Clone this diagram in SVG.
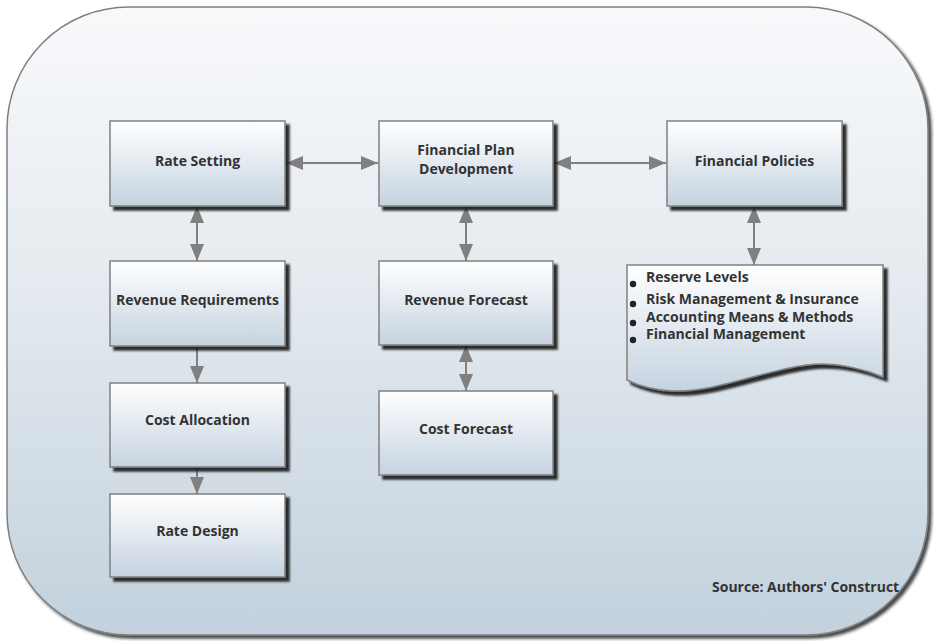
<svg xmlns="http://www.w3.org/2000/svg" width="934" height="641" viewBox="0 0 934 641">
<style>
.box{fill:url(#boxg);stroke:#808080;stroke-width:1.5;filter:url(#sh)}
.lbl{font-family:"Open Sans","Noto Sans","Liberation Sans",sans-serif;font-weight:bold;font-size:14px;fill:#333;text-anchor:middle}
.bl{font-family:"Open Sans","Noto Sans","Liberation Sans",sans-serif;font-weight:bold;font-size:14px;fill:#333}
.con{stroke:#808080;stroke-width:2;fill:none}
</style>
<defs>
<linearGradient id="bg" x1="0" y1="0" x2="0" y2="1">
<stop offset="0" stop-color="#f8f9fb"/>
<stop offset="0.45" stop-color="#e4eaef"/>
<stop offset="1" stop-color="#c2d1dd"/>
</linearGradient>
<linearGradient id="boxg" x1="0" y1="0" x2="0" y2="1">
<stop offset="0" stop-color="#ffffff"/>
<stop offset="1" stop-color="#c5d3e0"/>
</linearGradient>
<filter id="sh" x="-10%" y="-10%" width="130%" height="130%">
<feDropShadow dx="4" dy="4" stdDeviation="1" flood-color="#151515" flood-opacity="0.9"/>
</filter>
<filter id="sh2" x="-5%" y="-5%" width="110%" height="110%">
<feDropShadow dx="3" dy="3" stdDeviation="1.5" flood-color="#1a1a1a" flood-opacity="0.8"/>
</filter>
<marker id="ah" markerUnits="userSpaceOnUse" markerWidth="17" markerHeight="14" refX="17" refY="7" orient="auto-start-reverse">
<path d="M0,0 L17,7 L0,14 Z" fill="#808080"/>
</marker>
</defs>
<g id="background">
<rect x="7" y="7" width="921" height="628" rx="122" ry="122" fill="url(#bg)" stroke="#808080" stroke-width="1.5" filter="url(#sh2)"/>
</g>
<g id="connectors">
<line class="con" x1="286" y1="163" x2="378" y2="163" marker-start="url(#ah)" marker-end="url(#ah)"/>
<line class="con" x1="554" y1="163" x2="666" y2="163" marker-start="url(#ah)" marker-end="url(#ah)"/>
<line class="con" x1="197" y1="206" x2="197" y2="261" marker-start="url(#ah)" marker-end="url(#ah)"/>
<line class="con" x1="466" y1="206" x2="466" y2="261" marker-start="url(#ah)" marker-end="url(#ah)"/>
<line class="con" x1="754" y1="206" x2="754" y2="265" marker-start="url(#ah)" marker-end="url(#ah)"/>
<line class="con" x1="466" y1="345" x2="466" y2="391" marker-start="url(#ah)" marker-end="url(#ah)"/>
<line class="con" x1="197" y1="346" x2="197" y2="383" marker-end="url(#ah)"/>
<line class="con" x1="197" y1="467" x2="197" y2="494" marker-end="url(#ah)"/>
</g>
<g id="rate-setting">
<rect class="box" x="110" y="121" width="175" height="85"/>
<text class="lbl" x="197.5" y="166">Rate Setting</text>
</g>
<g id="financial-plan">
<rect class="box" x="379" y="121" width="174" height="85"/>
<text class="lbl" x="466" y="155">Financial Plan</text>
<text class="lbl" x="466" y="174">Development</text>
</g>
<g id="financial-policies">
<rect class="box" x="667" y="121" width="175" height="85"/>
<text class="lbl" x="754.5" y="166">Financial Policies</text>
</g>
<g id="revenue-requirements">
<rect class="box" x="110" y="261" width="175" height="85"/>
<text class="lbl" x="197.5" y="305">Revenue Requirements</text>
</g>
<g id="revenue-forecast">
<rect class="box" x="379" y="261" width="174" height="84"/>
<text class="lbl" x="466" y="305">Revenue Forecast</text>
</g>
<g id="cost-allocation">
<rect class="box" x="110" y="383" width="175" height="84"/>
<text class="lbl" x="197.5" y="425">Cost Allocation</text>
</g>
<g id="cost-forecast">
<rect class="box" x="379" y="391" width="174" height="84"/>
<text class="lbl" x="466" y="434">Cost Forecast</text>
</g>
<g id="rate-design">
<rect class="box" x="110" y="494" width="175" height="83"/>
<text class="lbl" x="197.5" y="536">Rate Design</text>
</g>
<g id="policies-list">
<path class="box" d="M627,265 H883 V377 C858,367 832,362 807,365 C760,371 718,392 672,391 C652,390 639,386 627,380 Z"/>
<circle cx="633" cy="284" r="3.2" fill="#222"/>
<circle cx="633" cy="304" r="3.2" fill="#222"/>
<circle cx="633" cy="323" r="3.2" fill="#222"/>
<circle cx="633" cy="340" r="3.2" fill="#222"/>
<text class="bl" x="646" y="282">Reserve Levels</text>
<text class="bl" x="646" y="304">Risk Management &amp; Insurance</text>
<text class="bl" x="646" y="322">Accounting Means &amp; Methods</text>
<text class="bl" x="646" y="339">Financial Management</text>
</g>
<g id="source">
<text class="bl" x="712" y="592">Source: Authors' Construct</text>
</g>
</svg>
